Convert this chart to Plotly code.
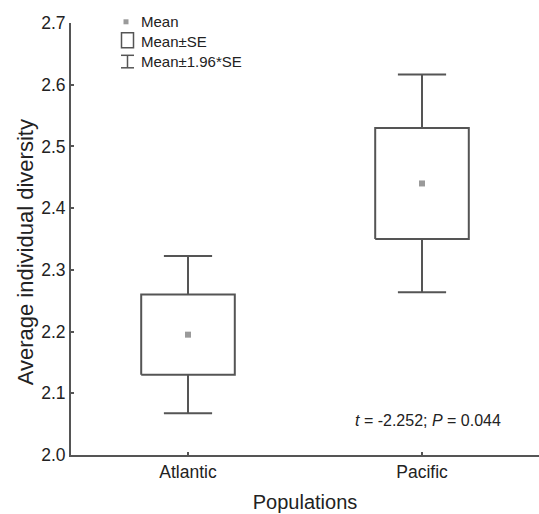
import plotly.graph_objects as go

# Group summary statistics
populations = ["Atlantic", "Pacific"]
means = [2.195, 2.44]
se = [0.065, 0.09]
ci_factor = 1.96

y_ticks = [2.0, 2.1, 2.2, 2.3, 2.4, 2.5, 2.6, 2.7]
stat_label = "<i>t</i> = -2.252; <i>P</i> = 0.044"
y_title = "Average individual diversity"

LINE = "#555555"
TEXT = "#222222"
FONT = "Liberation Sans, Arial, sans-serif"
BOX_HALF = 0.2
CAP_HALF = 0.103

fig = go.Figure()

for i, (m, s) in enumerate(zip(means, se)):
    lo, hi = m - s, m + s
    wlo, whi = m - ci_factor * s, m + ci_factor * s
    # Mean ± SE box
    fig.add_trace(go.Scatter(
        x=[i - BOX_HALF, i + BOX_HALF, i + BOX_HALF, i - BOX_HALF, i - BOX_HALF],
        y=[lo, lo, hi, hi, lo],
        mode="lines", line=dict(color=LINE, width=2),
        fill="toself", fillcolor="white", hoverinfo="skip", showlegend=False))
    # Whiskers to Mean ± 1.96*SE with caps
    fig.add_trace(go.Scatter(
        x=[i, i, None, i, i, None,
           i - CAP_HALF, i + CAP_HALF, None, i - CAP_HALF, i + CAP_HALF],
        y=[hi, whi, None, lo, wlo, None, whi, whi, None, wlo, wlo],
        mode="lines", line=dict(color=LINE, width=2),
        hoverinfo="skip", showlegend=False))

# Means
fig.add_trace(go.Scatter(
    x=list(range(len(populations))), y=means, mode="markers",
    marker=dict(symbol="square", size=6, color="#9a9a9a", line=dict(width=0)),
    showlegend=False))

# Hand-drawn legend in paper coordinates
L, R, T, B = 71.0, 539.0, 22.7, 454.7


def px(x):
    return (x - L) / (R - L)


def py(y):
    return (B - y) / (B - T)


shapes = [
    dict(type="rect", xref="paper", yref="paper",
         x0=px(123.5), x1=px(128.5), y0=py(24), y1=py(19),
         fillcolor="#9a9a9a", line=dict(width=0)),
    dict(type="rect", xref="paper", yref="paper",
         x0=px(121.5), x1=px(133.5), y0=py(47.5), y1=py(32.5),
         fillcolor="white", line=dict(color=LINE, width=1.5)),
    dict(type="line", xref="paper", yref="paper",
         x0=px(121), x1=px(134), y0=py(55), y1=py(55),
         line=dict(color=LINE, width=1.5)),
    dict(type="line", xref="paper", yref="paper",
         x0=px(121), x1=px(134), y0=py(67.5), y1=py(67.5),
         line=dict(color=LINE, width=1.5)),
    dict(type="line", xref="paper", yref="paper",
         x0=px(127.5), x1=px(127.5), y0=py(55), y1=py(67.5),
         line=dict(color=LINE, width=1.5)),
]

annotations = []
for label, yy in [("Mean", 21.5), ("Mean±SE", 41.5), ("Mean±1.96*SE", 61.5)]:
    annotations.append(dict(
        xref="paper", yref="paper", x=px(139), y=py(yy), text=label,
        showarrow=False, xanchor="left", yanchor="middle",
        font=dict(family=FONT, size=15, color=TEXT)))

annotations.append(dict(
    xref="x", yref="y", x=1.025, y=2.0555, text=stat_label,
    showarrow=False, xanchor="center", yanchor="middle",
    font=dict(family=FONT, size=16, color=TEXT)))

# Vertical axis title
annotations.append(dict(
    xref="paper", yref="paper", x=px(25), y=py(252), text=y_title,
    textangle=-90, showarrow=False, xanchor="center", yanchor="middle",
    font=dict(family=FONT, size=22, color=TEXT)))

fig.update_layout(
    width=539, height=514,
    margin=dict(l=71, r=0, t=23, b=59),
    paper_bgcolor="white", plot_bgcolor="white",
    showlegend=False,
    shapes=shapes, annotations=annotations,
    font=dict(family=FONT, color=TEXT),
    xaxis=dict(
        range=[-0.5, 1.5], tickvals=[0, 1], ticktext=populations,
        showgrid=False, zeroline=False,
        showline=True, linecolor=LINE, linewidth=2,
        ticks="inside", ticklen=3, tickwidth=1.5, tickcolor=LINE,
        tickfont=dict(family=FONT, size=17.5, color=TEXT),
        title=dict(text="Populations", standoff=14,
                   font=dict(family=FONT, size=20, color=TEXT)),
    ),
    yaxis=dict(
        range=[2.0, 2.7], tickvals=y_ticks, tickformat=".1f",
        showgrid=False, zeroline=False,
        showline=True, linecolor=LINE, linewidth=2,
        ticks="inside", ticklen=3, tickwidth=1.5, tickcolor=LINE,
        tickfont=dict(family=FONT, size=17.5, color=TEXT),
    ),
)

fig.write_html("out.html")
